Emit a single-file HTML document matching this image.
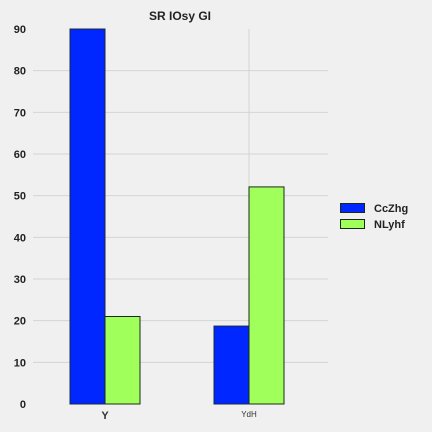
<!DOCTYPE html>
<html><head><meta charset="utf-8"><style>
body{margin:0;background:#f0f0f0;}
svg{display:block;font-family:"Liberation Sans",sans-serif;}
</style></head><body>
<svg id="chart" width="432" height="432">
<rect width="432" height="432" fill="#f0f0f0"/>
<text x="180" y="20" text-anchor="middle" font-size="12" font-weight="bold" fill="#222">SR IOsy GI</text>
<g id="grid"></g><g id="bars"></g><g id="axes"></g>
<g>
<rect x="340.5" y="203.5" width="24" height="9" fill="#0027ff" stroke="#1a2a1a"/>
<text x="374" y="212" font-size="11" font-weight="bold" fill="#222">CcZhg</text>
<rect x="340.5" y="219.5" width="24" height="9" fill="#a0ff5a" stroke="#1a2a1a"/>
<text x="374" y="228" font-size="11" font-weight="bold" fill="#222">NLyhf</text>
</g>
</svg>
<script>
const categories=["Y","YdH"];
const seriesCcZhg=[90,18.7];
const seriesNLyhf=[21,52.1];
const yTicks=[0,10,20,30,40,50,60,70,80,90];
const NS="http://www.w3.org/2000/svg";
const y=v=>404-v*(375/90);
const x=i=>105+144*i;
const bw=35;
function mk(t,a,p){const e=document.createElementNS(NS,t);for(const k in a)e.setAttribute(k,a[k]);p.appendChild(e);return e;}
const grid=document.getElementById('grid'),bars=document.getElementById('bars'),axes=document.getElementById('axes');
yTicks.forEach(v=>{
  if(v>0&&v<90){const l=mk('line',{x1:33,x2:328,y1:y(v),y2:y(v),stroke:'#d4d4d4','stroke-width':1},grid);
  
  }
  const t=mk('text',{x:26,y:y(v)+4,'text-anchor':'end','font-size':11,'font-weight':'bold',fill:'#222'},axes);
  t.textContent=v;
  
  
});
categories.forEach((c,i)=>{
  const g=mk('line',{x1:x(i),x2:x(i),y1:29,y2:404,stroke:'#d4d4d4','stroke-width':1},grid);
  
  
  const b1=mk('rect',{x:x(i)-bw,y:y(seriesCcZhg[i]),width:bw,height:404-y(seriesCcZhg[i]),fill:'#0027ff',stroke:'#1a2a3a','stroke-width':1},bars);
  
  
  const b2=mk('rect',{x:x(i),y:y(seriesNLyhf[i]),width:bw,height:404-y(seriesNLyhf[i]),fill:'#a0ff5a',stroke:'#1a2a1a','stroke-width':1},bars);
  
  
  const t=mk('text',{x:x(i),y:i==0?419:417,'text-anchor':'middle','font-size':i==0?11:8,'font-weight':i==0?'bold':'normal',fill:'#333'},axes);
  t.textContent=c;
  
  
});
</script>
</body></html>
